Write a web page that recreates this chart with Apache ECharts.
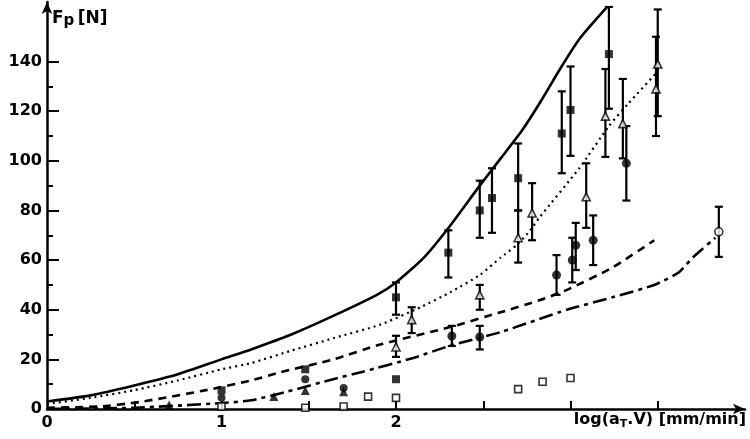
<!DOCTYPE html>
<html>
<head>
<meta charset="utf-8">
<script src="https://cdn.jsdelivr.net/npm/echarts@6/dist/echarts.min.js"></script>
<style>html,body{margin:0;padding:0;background:#fff}#main{width:750px;height:439px}</style>
</head>
<body>
<div id="main"></div>
<script>
// curves: [log(aT.V), Fp]
var solidCurve = [[0,3],[0.25,5.5],[0.5,9.5],[0.75,14],[1,20],[1.17,24],[1.4,30],[1.64,37.5],[1.89,46],[2,51],[2.16,61],[2.29,72],[2.48,90],[2.6,101],[2.72,112],[2.83,124],[2.94,137],[3.05,149],[3.21,162]];
var dottedCurve = [[0,2],[0.25,4.5],[0.5,7.6],[0.75,11.5],[1,16],[1.17,18.5],[1.4,23.5],[1.64,28.5],[1.91,34],[2.14,41],[2.31,47],[2.48,54],[2.6,61],[2.69,66],[2.77,72],[2.82,77],[3.05,97],[3.22,114],[3.33,123],[3.5,136]];
var dashedCurve = [[0,0.5],[0.3,1],[0.53,2.8],[0.92,7.7],[1.17,11.5],[1.32,14.5],[1.64,20],[1.91,26],[2.31,33],[2.6,39],[2.83,44],[2.98,48],[3.24,57],[3.48,68]];
var dashDotCurve = [[0,0],[0.5,0.5],[1,2.4],[1.17,3.5],[1.375,7],[1.64,12],[1.81,15],[2.1,20.6],[2.31,25.5],[2.6,31],[2.98,40],[3.24,45],[3.48,50],[3.62,55],[3.70,61],[3.83,69]];

// points with error bars: [x, y, low, high]
var filledSquares = [[2.0,45,38,51],[2.3,63,53,72],[2.48,80,69,92],[2.55,85,71,97],[2.70,93,80,107],[2.95,111,95,128],[3.0,120.5,102,138],[3.22,143,121,162]];
var openTriangles = [[2.0,25,21,29.5],[2.09,36,30.6,41],[2.48,46,40,50],[2.70,69,59,80],[2.78,79,68,91],[3.09,85.5,73,99],[3.20,118,101.6,137],[3.30,115,101,133],[3.49,129,110,150],[3.5,139,118,161]];
var filledCircles = [[2.32,29.4,25.4,33.5],[2.48,29,24,33.5],[2.92,54,46,62],[3.01,60,51,69],[3.03,66,56,75],[3.13,68,58,78],[3.32,99,84,114]];
var openCircles = [[3.85,71.4,61.3,81.5]];

// points without error bars
var lowSquares = [[1.0,7.5],[1.48,16],[2.0,12]];
var lowCircles = [[1.0,4.5],[1.48,12],[1.7,8.5]];
var filledTriangles = [[0.7,1.6],[1.3,5],[1.48,7.5],[1.7,7]];
var openSquares = [[1.0,1],[1.48,0.5],[1.70,1],[1.84,5],[2.0,4.5],[2.70,8],[2.84,11],[3.0,12.5]];

var yLabels = [0,20,40,60,80,100,120,140];
var yMinor = [10,30,50,70,90,110,130];
var xLabels = [0,1,2];
var xTicks = [0.5,1,1.5,2,2.5,3,3.5];

var chart = echarts.init(document.getElementById('main'));

function errBar(params, api) {
    var x = api.value(0);
    var lo = api.coord([x, api.value(2)]);
    var hi = api.coord([x, api.value(3)]);
    var w = 4;
    var st = {stroke: '#000', lineWidth: 2.2};
    return {type: 'group', children: [
        {type: 'line', shape: {x1: lo[0], y1: lo[1], x2: hi[0], y2: hi[1]}, style: st},
        {type: 'line', shape: {x1: lo[0]-w, y1: lo[1], x2: lo[0]+w, y2: lo[1]}, style: st},
        {type: 'line', shape: {x1: hi[0]-w, y1: hi[1], x2: hi[0]+w, y2: hi[1]}, style: st}
    ]};
}

function bars(arr) {
    return {type: 'custom', renderItem: errBar, data: arr, encode: {x: 0, y: [2,3]}, clip: false, silent: true, z: 3};
}
function pts(arr, symbol, filled, size) {
    return {
        type: 'scatter', symbol: symbol, symbolSize: size || 8, z: 4, silent: true,
        data: arr.map(function (d) { return [d[0], d[1]]; }),
        itemStyle: filled ? {color: '#000'} : {color: '#fff', borderColor: '#000', borderWidth: 1.6}
    };
}
function curve(arr, type, w) {
    return {type: 'line', data: arr, showSymbol: false, smooth: 0.2, silent: true, z: 2,
        lineStyle: {color: '#000', width: w, type: type}};
}

var FONT = 'DejaVu Sans';
var labelFont = {color: '#000', fontSize: 16, fontWeight: 'bold', fontFamily: FONT};

chart.setOption({
    animation: false,
    grid: {left: 47, right: 5, top: 2, bottom: 30},
    xAxis: {
        type: 'value', min: 0, max: 4,
        axisLine: {lineStyle: {color: '#000', width: 2.5}, symbol: ['none','arrow'], symbolSize: [8,12]},
        axisTick: {inside: true, length: 8, lineStyle: {color: '#000', width: 2}, customValues: xTicks},
        axisLabel: Object.assign({customValues: xLabels, margin: 6}, labelFont),
        splitLine: {show: false}
    },
    yAxis: [{
        type: 'value', min: 0, max: 164,
        axisLine: {lineStyle: {color: '#000', width: 2.5}, symbol: ['none','arrow'], symbolSize: [8,12]},
        axisTick: {inside: true, length: 12, lineStyle: {color: '#000', width: 2}, customValues: yLabels},
        axisLabel: Object.assign({customValues: yLabels, margin: 5}, labelFont),
        splitLine: {show: false}
    }, {
        type: 'value', min: 0, max: 164, position: 'left',
        axisLine: {show: false},
        axisTick: {inside: true, length: 6, lineStyle: {color: '#000', width: 2}, customValues: yMinor},
        axisLabel: {show: false},
        splitLine: {show: false}
    }],
    graphic: [{
        type: 'text', left: 52, top: 10,
        style: {text: '{f|F}{s|p} {f|[N]}', rich: {
            f: {fontSize: 17, fontWeight: 'bold', fontFamily: FONT, fill: '#000'},
            s: {fontSize: 15, fontWeight: 'bold', fontFamily: FONT, fill: '#000', padding: [6,0,0,0]}
        }}
    }, {
        type: 'text', right: 4, top: 412,
        style: {text: '{f|log(a}{s|T}{f|.V) [mm/min]}', rich: {
            f: {fontSize: 16, fontWeight: 'bold', fontFamily: FONT, fill: '#000'},
            s: {fontSize: 11, fontWeight: 'bold', fontFamily: FONT, fill: '#000', padding: [8,0,0,0]}
        }}
    }],
    series: [
        curve(solidCurve, 'solid', 2.6),
        curve(dottedCurve, [2,4], 2.2),
        curve(dashedCurve, [8,6], 2.6),
        curve(dashDotCurve, [14,5,4,5], 2.6),
        bars(filledSquares), bars(openTriangles), bars(filledCircles), bars(openCircles),
        pts(filledSquares, 'rect', true),
        pts(openTriangles, 'triangle', false),
        pts(filledCircles, 'circle', true, 9),
        pts(openCircles, 'circle', false),
        pts(lowSquares, 'rect', true),
        pts(lowCircles, 'circle', true),
        pts(filledTriangles, 'triangle', true, 9),
        pts(openSquares, 'rect', false, 7)
    ]
});
</script>
</body>
</html>
